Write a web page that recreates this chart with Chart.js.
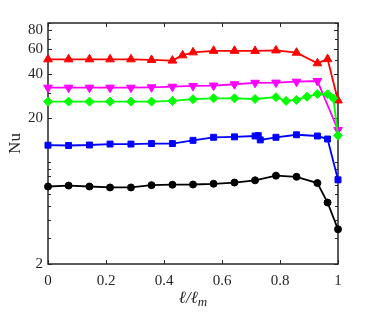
<!DOCTYPE html>
<html>
<head>
<meta charset="utf-8">
<script src="https://cdn.jsdelivr.net/npm/chart.js@4"></script>
<style>
  html, body { margin: 0; padding: 0; background: #fff; }
  #wrap { width: 374px; height: 312px; }
</style>
</head>
<body>
<div id="wrap"><canvas id="myChart" width="374" height="312"></canvas></div>
<script>
'use strict';

// data
const xRed = [0, 0.071, 0.143, 0.214, 0.286, 0.357, 0.429, 0.464, 0.5, 0.571, 0.643, 0.714, 0.786, 0.857, 0.929, 0.964, 1];
const nuRed = [50.7, 50.7, 50.7, 50.7, 50.7, 50.2, 49.7, 54.0, 56.6, 58.0, 58.0, 57.9, 58.4, 56.3, 47.6, 50.9, 26.5];

const xMagenta = [0, 0.071, 0.143, 0.214, 0.286, 0.357, 0.429, 0.5, 0.571, 0.643, 0.714, 0.786, 0.857, 0.929, 1];
const nuMagenta = [32.4, 32.4, 32.4, 32.4, 32.4, 32.6, 32.9, 33.3, 33.5, 34.2, 35.0, 35.1, 35.6, 36.0, 16.6];

const xGreen = [0, 0.071, 0.143, 0.214, 0.286, 0.357, 0.429, 0.5, 0.571, 0.643, 0.714, 0.786, 0.821, 0.857, 0.893, 0.929, 0.964, 0.984, 1];
const nuGreen = [26.0, 26.0, 26.0, 26.0, 26.0, 26.0, 26.3, 27.0, 27.4, 27.4, 27.1, 27.9, 26.3, 26.7, 28.1, 29.3, 29.2, 27.4, 15.2];

const xBlue = [0, 0.071, 0.143, 0.214, 0.286, 0.357, 0.429, 0.5, 0.571, 0.643, 0.714, 0.725, 0.732, 0.786, 0.857, 0.929, 0.964, 1];
const nuBlue = [13.06, 13.0, 13.1, 13.3, 13.3, 13.4, 13.4, 14.1, 14.8, 14.9, 15.1, 15.2, 14.2, 14.8, 15.4, 15.1, 14.4, 7.56];

const xBlack = [0, 0.071, 0.143, 0.214, 0.286, 0.357, 0.429, 0.5, 0.571, 0.643, 0.714, 0.786, 0.857, 0.929, 0.964, 1];
const nuBlack = [6.8, 6.9, 6.8, 6.7, 6.7, 6.95, 7.0, 7.02, 7.1, 7.24, 7.5, 8.07, 7.93, 7.18, 5.28, 3.46];

// axis ticks
const xTicks = [0, 0.2, 0.4, 0.6, 0.8, 1];
const yTickLabels = [2, 20, 40, 60, 80];
const yMinorTicks = [3, 4, 5, 6, 7, 8, 9, 10, 30, 50, 70, 90];

const FONT = '"Liberation Serif", "Times New Roman", serif';
const AXIS_COLOR = '#262626';

function pts(xs, ys) {
    return xs.map((x, i) => ({ x: x, y: ys[i] }));
}

function series(xs, ys, color, style, radius, rotation) {
    return {
        data: pts(xs, ys),
        borderColor: color,
        backgroundColor: color,
        borderWidth: 1.8,
        pointStyle: style,
        pointRadius: radius,
        pointRotation: rotation || 0,
        pointBorderWidth: 1,
        pointBorderColor: color,
        pointBackgroundColor: color,
        tension: 0,
        clip: false
    };
}

// box with inward ticks and the axis titles, drawn the MATLAB way
const matlabAxes = {
    id: 'matlabAxes',
    beforeDatasetsDraw(chart) {
        const c = chart.ctx;
        const a = chart.chartArea;
        const xs = chart.scales.x;
        const ys = chart.scales.y;
        c.save();
        c.strokeStyle = AXIS_COLOR;
        c.lineWidth = 1;
        // ticks
        c.beginPath();
        xTicks.forEach(v => {
            const px = Math.round(xs.getPixelForValue(v)) + 0.5;
            c.moveTo(px, a.bottom); c.lineTo(px, a.bottom - 4);
            c.moveTo(px, a.top); c.lineTo(px, a.top + 4);
        });
        yTickLabels.concat(yMinorTicks).forEach(v => {
            const py = Math.round(ys.getPixelForValue(v)) + 0.5;
            const len = yTickLabels.includes(v) ? 4 : 3;
            c.moveTo(a.left, py); c.lineTo(a.left + len, py);
            c.moveTo(a.right, py); c.lineTo(a.right - len, py);
        });
        c.stroke();
        // box
        c.lineWidth = 1.5;
        c.strokeRect(a.left, a.top, a.right - a.left, a.bottom - a.top);
        c.restore();
    },
    afterDraw(chart) {
        const c = chart.ctx;
        const a = chart.chartArea;
        c.save();
        c.fillStyle = AXIS_COLOR;
        // y title
        c.font = '17px ' + FONT;
        c.textAlign = 'center';
        c.textBaseline = 'middle';
        c.translate(16, (a.top + a.bottom) / 2);
        c.rotate(-Math.PI / 2);
        c.fillText('Nu', 0, 0);
        c.restore();

        // x title: l / l with subscript m
        c.save();
        c.fillStyle = AXIS_COLOR;
        c.textBaseline = 'alphabetic';
        c.textAlign = 'left';
        const main = 'ℓ/ℓ';
        c.font = 'italic 17px ' + FONT;
        const w1 = c.measureText(main).width;
        c.font = 'italic 13px ' + FONT;
        const w2 = c.measureText('m').width;
        const x0 = (a.left + a.right) / 2 - (w1 + w2) / 2;
        const base = 303;
        c.font = 'italic 17px ' + FONT;
        c.fillText(main, x0, base);
        c.font = 'italic 13px ' + FONT;
        c.fillText('m', x0 + w1, base + 3);
        c.restore();
    }
};

const ctx = document.getElementById('myChart').getContext('2d');

const chartObj = {
    type: 'line',
    data: {
        datasets: [
            series(xBlack, nuBlack, '#000000', 'circle', 3.5),
            series(xBlue, nuBlue, '#0000ff', 'rect', 4.2),
            series(xGreen, nuGreen, '#00ff00', 'rectRot', 4.5),
            series(xMagenta, nuMagenta, '#ff00ff', 'triangle', 5, 180),
            series(xRed, nuRed, '#ff0000', 'triangle', 5)
        ]
    },
    options: {
        responsive: false,
        animation: false,
        layout: { padding: { top: 23, right: 36, left: 0, bottom: 0 } },
        plugins: {
            legend: { display: false },
            tooltip: { enabled: false }
        },
        scales: {
            x: {
                type: 'linear',
                min: 0,
                max: 1,
                afterFit(scale) { scale.height = 48; },
                afterBuildTicks(scale) {
                    scale.ticks = xTicks.map(v => ({ value: v }));
                },
                grid: { display: false, drawTicks: false },
                border: { display: false },
                ticks: {
                    padding: 8,
                    color: AXIS_COLOR,
                    font: { family: FONT, size: 15 },
                    maxRotation: 0,
                    autoSkip: false,
                    callback: v => String(+v.toFixed(1))
                }
            },
            y: {
                type: 'logarithmic',
                min: 2,
                max: 90,
                afterFit(scale) { scale.width = 48; },
                afterBuildTicks(scale) {
                    scale.ticks = yTickLabels.map(v => ({ value: v }));
                },
                grid: { display: false, drawTicks: false },
                border: { display: false },
                ticks: {
                    padding: 5,
                    color: AXIS_COLOR,
                    font: { family: FONT, size: 15 },
                    autoSkip: false,
                    callback: v => String(v)
                }
            }
        }
    },
    plugins: [matlabAxes]
};

const myChart = new Chart(ctx, chartObj);
</script>
</body>
</html>
